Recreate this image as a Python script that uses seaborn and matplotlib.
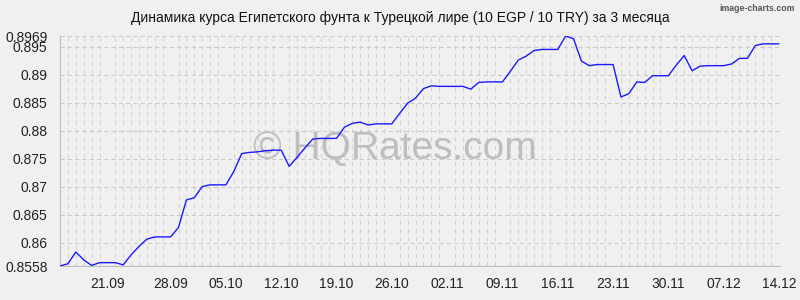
import numpy as np
import pandas as pd
import matplotlib
matplotlib.use("Agg")
import matplotlib.pyplot as plt
import seaborn as sns

# ---- data (daily rate, 10 EGP / 10 TRY, 14.09 .. 14.12) ----
rates = [
    0.8558, 0.8562, 0.8583, 0.8569, 0.8559, 0.8564, 0.8564, 0.8564, 0.8560, 0.8578,
    0.8593, 0.8606, 0.8610, 0.8610, 0.8610, 0.8627, 0.8676, 0.8680, 0.8700, 0.8703,
    0.8703, 0.8703, 0.8727, 0.8759, 0.8761, 0.8762, 0.8764, 0.8765, 0.8765, 0.8736,
    0.8752, 0.8769, 0.8785, 0.8786, 0.8786, 0.8786, 0.8806, 0.8813, 0.8815, 0.8810,
    0.8812, 0.8812, 0.8812, 0.8831, 0.8849, 0.8858, 0.8875, 0.8880, 0.8879, 0.8879,
    0.8879, 0.8879, 0.8874, 0.8886, 0.8887, 0.8887, 0.8887, 0.8906, 0.8926, 0.8933,
    0.8943, 0.8945, 0.8945, 0.8945, 0.8969, 0.8964, 0.8924, 0.8916, 0.8918, 0.8918,
    0.8918, 0.8860, 0.8866, 0.8887, 0.8886, 0.8898, 0.8898, 0.8898, 0.8917, 0.8934,
    0.8907, 0.8915, 0.8916, 0.8916, 0.8916, 0.8919, 0.8929, 0.8929, 0.8952, 0.8955,
    0.8955, 0.8955,
]
date_labels = ["21.09", "28.09", "05.10", "12.10", "19.10", "26.10", "02.11",
               "09.11", "16.11", "23.11", "30.11", "07.12", "14.12"]
y_ticks = [0.8558, 0.86, 0.865, 0.87, 0.875, 0.88, 0.885, 0.89, 0.895, 0.8969]
title = "Динамика курса Египетского фунта к Турецкой лире (10 EGP / 10 TRY) за 3 месяца"

df = pd.DataFrame({"day": np.arange(len(rates)), "rate": rates})

sns.set_style("white")
plt.rcParams["font.family"] = ["Liberation Sans", "DejaVu Sans"]

BG = "#f0f0f0"
fig = plt.figure(figsize=(8, 3), dpi=100, facecolor=BG)
ax = fig.add_axes([0.075, 0.1133, 0.9, 0.7667], facecolor=BG)

# watermark
ax.text(0.465, 0.51, "© HQRates.com", transform=ax.transAxes, ha="center", va="center",
        fontsize=28, color="#bebebe", zorder=1)

sns.lineplot(data=df, x="day", y="rate", ax=ax, color="#1a1aff", linewidth=1.0, zorder=3)

n = len(rates)
ax.set_xlim(0, (n - 1) * 720 / 719)
ax.set_ylim(y_ticks[0], y_ticks[-1])

# x ticks: weekly labels
tick_pos = [6] + [7 * k for k in range(2, 2 + len(date_labels) - 1)]
ax.set_xticks(tick_pos)
ax.set_xticklabels(date_labels)
ax.set_xticks(np.arange(0, n), minor=True)

ax.set_yticks(y_ticks)
ax.set_yticklabels([f"{v:g}" for v in y_ticks])

ax.set_xlabel("")
ax.set_ylabel("")

# grids
ax.grid(False)
ax.xaxis.grid(True, which="minor", color="#d2d2d2", linewidth=0.75, linestyle=(0, (4, 4)), zorder=0)
ax.yaxis.grid(True, which="major", color="#c8c8c8", linewidth=0.75, linestyle=(0, (4, 3)), zorder=0)
ax.set_axisbelow(True)

for s in ["top", "right"]:
    ax.spines[s].set_visible(False)
for s in ["left", "bottom"]:
    ax.spines[s].set_color("#bdbdbd")
    ax.spines[s].set_linewidth(0.8)

ax.tick_params(axis="x", which="major", length=0, pad=8, labelsize=10, labelcolor="#222222")
ax.tick_params(axis="x", which="minor", length=2.5, width=0.7, color="#c8c8c8")
ax.tick_params(axis="y", which="major", length=4, width=0.7, color="#bdbdbd", pad=5,
               labelsize=10, labelcolor="#222222")

fig.text(0.5, 0.94, title, ha="center", va="center", fontsize=10, color="#111111")
fig.text(0.994, 0.972, "image-charts.com", ha="right", va="center", fontsize=6.3,
         color="#555555", weight="bold")

fig.savefig("out.png", dpi=100, facecolor=BG)
